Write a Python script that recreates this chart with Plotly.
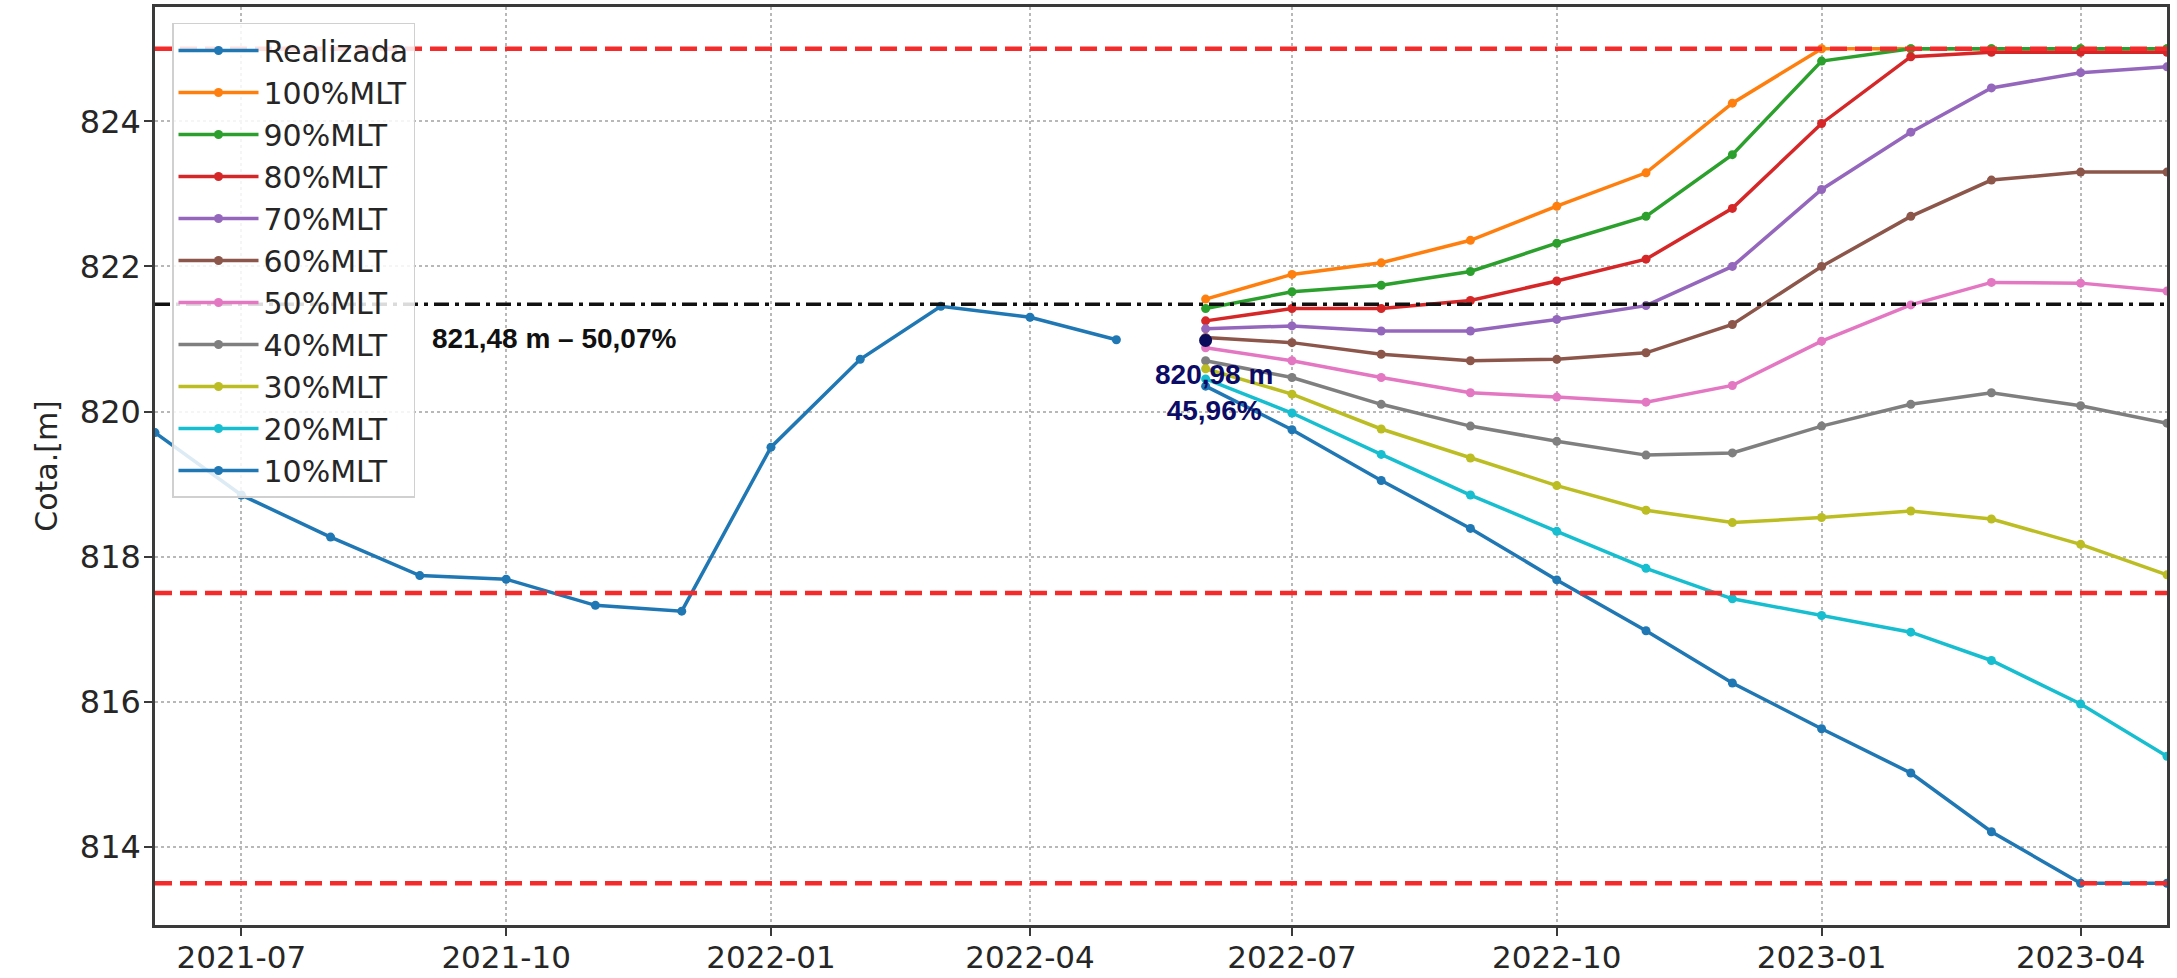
import plotly.graph_objects as go

# ---------------- data ----------------
dates_real = ["2021-06-01", "2021-07-01", "2021-08-01", "2021-09-01", "2021-10-01", "2021-11-01",
              "2021-12-01", "2022-01-01", "2022-02-01", "2022-03-01", "2022-04-01", "2022-05-01"]
realizada = [819.71, 818.85, 818.27, 817.74, 817.69, 817.33, 817.25, 819.51, 820.72, 821.45, 821.30, 820.99]

dates_proj = ["2022-06-01", "2022-07-01", "2022-08-01", "2022-09-01", "2022-10-01", "2022-11-01",
              "2022-12-01", "2023-01-01", "2023-02-01", "2023-03-01", "2023-04-01", "2023-05-01"]
mlt100 = [821.55, 821.89, 822.05, 822.36, 822.83, 823.29, 824.25, 825.00, 825.00, 825.00, 825.00, 825.00]
mlt90 = [821.42, 821.65, 821.74, 821.93, 822.32, 822.69, 823.54, 824.83, 825.00, 825.00, 825.00, 825.00]
mlt80 = [821.25, 821.42, 821.42, 821.53, 821.80, 822.10, 822.80, 823.97, 824.89, 824.95, 824.95, 824.95]
mlt70 = [821.14, 821.18, 821.11, 821.11, 821.27, 821.46, 822.00, 823.06, 823.85, 824.46, 824.67, 824.75]
mlt60 = [821.02, 820.95, 820.79, 820.70, 820.72, 820.81, 821.20, 822.00, 822.69, 823.19, 823.30, 823.30]
mlt50 = [820.88, 820.70, 820.47, 820.26, 820.20, 820.13, 820.36, 820.97, 821.47, 821.78, 821.77, 821.66]
mlt40 = [820.70, 820.47, 820.10, 819.80, 819.59, 819.40, 819.43, 819.80, 820.10, 820.26, 820.08, 819.84]
mlt30 = [820.59, 820.24, 819.76, 819.36, 818.98, 818.64, 818.47, 818.54, 818.63, 818.52, 818.17, 817.75]
mlt20 = [820.45, 819.98, 819.41, 818.85, 818.35, 817.84, 817.42, 817.19, 816.96, 816.57, 815.97, 815.25]
mlt10 = [820.35, 819.75, 819.05, 818.39, 817.68, 816.98, 816.26, 815.63, 815.02, 814.21, 813.50, 813.50]

scenario_names = ["100%MLT", "90%MLT", "80%MLT", "70%MLT", "60%MLT", "50%MLT",
                  "40%MLT", "30%MLT", "20%MLT", "10%MLT"]
scenario_values = [mlt100, mlt90, mlt80, mlt70, mlt60, mlt50, mlt40, mlt30, mlt20, mlt10]

limit_levels = [825.0, 817.5, 813.5]     # red dashed reference levels
meta_level = 821.48                        # black dash-dot reference level
current_date = "2022-06-01"
current_level = 820.98

label_meta = "821,48 m – 50,07%"
label_current = "820,98 m<br>45,96%"

x_range = ["2021-06-01", "2023-05-01"]
y_range = [812.925, 825.575]
y_ticks = [814, 816, 818, 820, 822, 824]

# ---------------- style ----------------
colors = ["#1f77b4", "#ff7f0e", "#2ca02c", "#d62728", "#9467bd", "#8c564b",
          "#e377c2", "#7f7f7f", "#bcbd22", "#17becf", "#1f77b4"]
FONT = "DejaVu Sans"
TXT = "#262626"
SPINE = "#3a3a3a"

fig = go.Figure()

fig.add_trace(go.Scatter(x=dates_real, y=realizada, name="Realizada", mode="lines+markers",
                         line=dict(color=colors[0], width=3.5), marker=dict(size=9, color=colors[0])))
for i, (nm, vals) in enumerate(zip(scenario_names, scenario_values)):
    fig.add_trace(go.Scatter(x=dates_proj, y=vals, name=nm, mode="lines+markers",
                             line=dict(color=colors[i + 1], width=3.5),
                             marker=dict(size=9, color=colors[i + 1])))

fig.add_trace(go.Scatter(x=[current_date], y=[current_level], mode="markers", showlegend=False,
                         marker=dict(size=13, color="#0a0a5a")))

for lv in limit_levels:
    fig.add_shape(type="line", xref="paper", x0=0, x1=1, yref="y", y0=lv, y1=lv,
                  line=dict(color="#f52a2a", width=4.5, dash="17px,8px"), layer="above")
fig.add_shape(type="line", xref="paper", x0=0, x1=1, yref="y", y0=meta_level, y1=meta_level,
              line=dict(color="#111111", width=3.5, dash="15px,6px,4px,6px"), layer="above")

fig.add_annotation(x=0.1367, y=0.6394, xref="paper", yref="paper", xanchor="left", yanchor="middle",
                   text=f"<b>{label_meta}</b>", showarrow=False,
                   font=dict(family="Liberation Sans, Arial, sans-serif", size=28, color="#111111"))
fig.add_annotation(x=0.5263, y=0.580, xref="paper", yref="paper", xanchor="center", yanchor="middle",
                   text=f"<b>{label_current}</b>", showarrow=False,
                   font=dict(family="Liberation Sans, Arial, sans-serif", size=28, color="#0c0c66"))

axis_common = dict(showline=True, linecolor=SPINE, linewidth=2.5, mirror=True,
                   ticks="outside", ticklen=8, tickwidth=2, tickcolor=SPINE,
                   showgrid=True, gridcolor="#b8b8b8", gridwidth=1.5, griddash="dot",
                   zeroline=False, automargin=False)

fig.update_xaxes(type="date", range=x_range, tick0="2021-07-01", dtick="M3", tickformat="%Y-%m",
                 tickfont=dict(family=FONT, size=31, color=TXT), ticklabelstandoff=-5,
                 **axis_common)
fig.update_yaxes(range=y_range, tickvals=y_ticks, ticktext=[str(t) for t in y_ticks],
                 tickfont=dict(family=FONT, size=32, color=TXT), ticklabelstandoff=-3,
                 title=dict(text="Cota.[m]", font=dict(family=FONT, size=30, color=TXT), standoff=14),
                 **axis_common)

fig.update_layout(
    width=2177, height=978,
    margin=dict(l=155, r=10, t=7, b=53),
    paper_bgcolor="white", plot_bgcolor="white",
    font=dict(family=FONT, color=TXT),
    legend=dict(x=0.00845, y=0.9826, xanchor="left", yanchor="top",
                bgcolor="rgba(255,255,255,0.85)", bordercolor="#d0d0d0", borderwidth=1.5,
                font=dict(family=FONT, size=30, color=TXT), itemwidth=80,
                tracegroupgap=0),
    showlegend=True,
)

fig.write_html("out.html", config={"displayModeBar": False},
               post_script="document.body.style.margin='0';document.body.style.overflow='hidden';")
